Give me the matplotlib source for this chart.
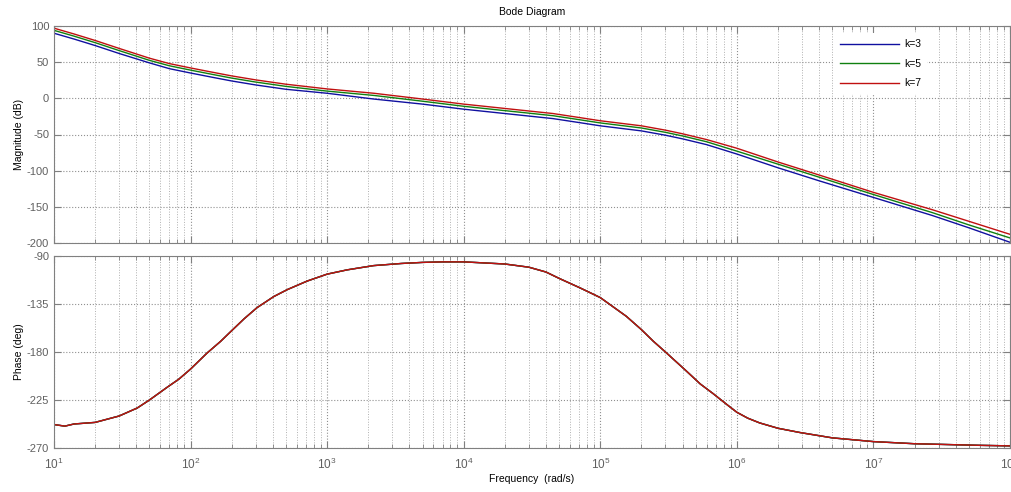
import matplotlib
matplotlib.use("Agg")
import matplotlib.pyplot as plt
import numpy as np
from matplotlib.ticker import LogLocator, FixedLocator, NullFormatter, LogFormatterMathtext

plt.rcParams['font.family'] = ['Liberation Sans', 'DejaVu Sans']
plt.rcParams['mathtext.fontset'] = 'custom'
plt.rcParams['mathtext.rm'] = 'Liberation Sans'
plt.rcParams['mathtext.it'] = 'Liberation Sans'
plt.rcParams['mathtext.default'] = 'regular'
plt.rcParams['axes.unicode_minus'] = False

# ---- data ----
gains = ["k=3", "k=5", "k=7"]
colors = ["#1010a0", "#108010", "#c01010"]

mag_freq = [10, 14, 20, 30, 50, 70, 100, 150, 200, 300, 500, 1e3, 2.2e3, 5e3, 1e4, 2e4,
            4.5e4, 7e4, 1e5, 2e5, 3e5, 4e5, 6e5, 1e6, 2e6, 4e6, 1e7, 2.7e7, 5e7, 1e8]
mag_k7 = [97, 89, 80, 69, 55.5, 48, 42, 35.5, 31, 25.5, 19.5, 13, 7, -1, -8, -14,
          -21, -26.5, -31, -38, -44, -49, -57, -69, -88, -106, -130, -154, -170, -188]
mag_k5 = [94, 86, 77, 66, 52.5, 45, 39, 32.5, 28, 22.5, 16.5, 10, 4, -4, -11, -17,
          -24, -29.5, -34, -41, -47, -52, -60, -73, -91, -109, -133, -158, -175, -193]
mag_k3 = [90, 82, 73, 62, 49, 41, 35, 28.5, 24, 18.5, 12.5, 7, -1, -8, -15, -21,
          -28, -33.5, -38, -45, -51, -56, -64, -77, -96, -114, -137, -162, -179, -199]

phase_freq = [10, 12, 14, 20, 30, 40.7, 50, 67.5, 82, 100, 132, 166, 200, 246, 306, 407,
              511, 714, 1000, 1400, 2190, 3500, 5000, 7000, 1e4, 2e4, 3e4, 4e4, 5e4, 7e4,
              8.3e4, 1e5, 1.55e5, 2e5, 2.45e5, 3e5, 4.2e5, 5.4e5, 6.7e5, 8.4e5, 1e6, 1.2e6,
              1.47e6, 2e6, 2.9e6, 5e6, 1e7, 2e7, 6e7, 1e8]
phase_all = [-248, -249.5, -247.5, -246, -240, -232.5, -225, -213, -205.5, -196, -181, -170,
             -160, -149, -138.5, -128, -121.5, -113.5, -107, -103, -99, -97, -96, -95.5, -95.5,
             -97.5, -100.5, -105, -111, -119.5, -124, -129, -146.5, -159, -170, -180, -197,
             -210, -219, -229, -236.5, -242, -246.5, -251.5, -255.5, -260.5, -264, -266,
             -267.5, -268]

mags = [mag_k3, mag_k5, mag_k7]
phases = [phase_all, phase_all, phase_all]

fig = plt.figure(figsize=(10.12, 4.92), dpi=100)
ax1 = fig.add_axes([54/1012, 1-243/492, 956/1012, 217/492])
ax2 = fig.add_axes([54/1012, 1-448/492, 956/1012, 192/492])

spine_col = '#808080'
tick_col = '#606060'

for lbl, c, m in zip(gains, colors, mags):
    ax1.semilogx(mag_freq, m, color=c, lw=1.0, label=lbl)
for lbl, c, p in zip(gains, colors, phases):
    ax2.semilogx(phase_freq, p, color=c, lw=1.0)

for ax in (ax1, ax2):
    ax.set_xlim(10, 1e8)
    ax.xaxis.set_major_locator(LogLocator(base=10, numticks=20))
    ax.xaxis.set_minor_locator(LogLocator(base=10, subs=np.arange(2, 10), numticks=100))
    ax.xaxis.set_minor_formatter(NullFormatter())
    ax.grid(True, which='major', linestyle=':', color='#909090', lw=0.8)
    ax.grid(True, which='minor', axis='x', linestyle=':', color='#b0b0b0', lw=0.7)
    ax.tick_params(which='both', direction='in', top=True, right=True, colors=spine_col,
                   labelcolor=tick_col, labelsize=8)
    ax.tick_params(which='major', length=5)
    ax.tick_params(which='minor', length=3)
    for s in ax.spines.values():
        s.set_color(spine_col)
    ax.set_axisbelow(True)

ax1.set_ylim(-200, 100)
ax1.yaxis.set_major_locator(FixedLocator([-200, -150, -100, -50, 0, 50, 100]))
ax1.tick_params(labelbottom=False)
ax1.set_ylabel("Magnitude (dB)", fontsize=7.5, labelpad=2)
ax1.set_title("Bode Diagram", fontsize=7.5, pad=8)

ax2.set_ylim(-270, -90)
ax2.yaxis.set_major_locator(FixedLocator([-270, -225, -180, -135, -90]))
ax2.xaxis.set_major_formatter(LogFormatterMathtext())
ax2.tick_params(axis='x', which='major', pad=6, labelsize=8.5)
ax2.set_ylabel("Phase (deg)", fontsize=7.5, labelpad=2)
ax2.set_xlabel("Frequency  (rad/s)", fontsize=7.5, labelpad=2)

leg = ax1.legend(loc='upper left', bbox_to_anchor=(829/1012, 1-28/492), bbox_transform=fig.transFigure,
                 frameon=True, fontsize=7.5, handlelength=5.6, labelspacing=0.9,
                 borderpad=0.6, handletextpad=0.5)
leg.get_frame().set_edgecolor('none')
leg.get_frame().set_facecolor('white')
leg.get_frame().set_alpha(1.0)

fig.savefig("out.png", dpi=100)
